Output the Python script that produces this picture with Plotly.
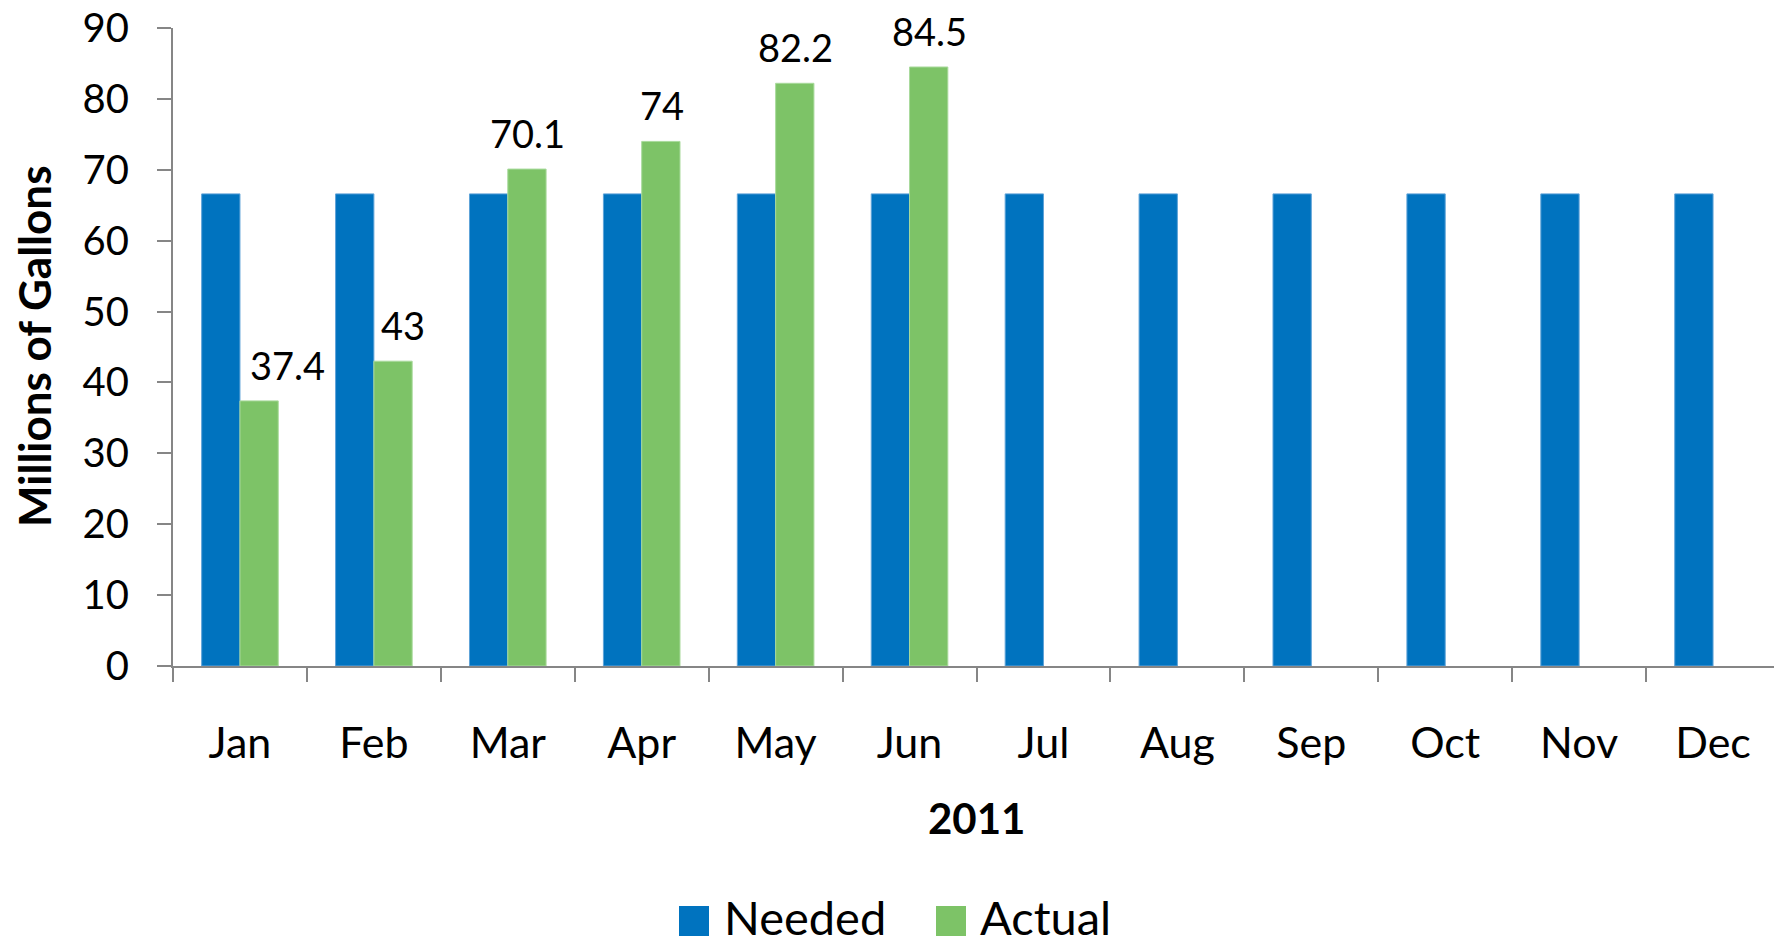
import plotly.graph_objects as go

months = ["Jan", "Feb", "Mar", "Apr", "May", "Jun", "Jul", "Aug", "Sep", "Oct", "Nov", "Dec"]
needed = [66.6] * 12
actual = [37.4, 43, 70.1, 74, 82.2, 84.5, None, None, None, None, None, None]
actual_labels = ["37.4", "43", "70.1", "74", "82.2", "84.5"]

BLUE = "#0073BF"
GREEN = "#7DC367"
AXIS = "#868686"
FONT = "Lato"

# extra horizontal offsets (px) of the data labels (Jan/Feb were nudged right)
label_xshift = [48, 29, 20, 20, 20, 20]

fig = go.Figure()
fig.add_trace(go.Bar(name="Needed", x=months, y=needed, marker=dict(color=BLUE, line=dict(color="#5FA3D8", width=1)),
                     showlegend=False))
fig.add_trace(go.Bar(name="Actual", x=months, y=actual, marker=dict(color=GREEN, line=dict(color="#A9DA9C", width=1)),
                     showlegend=False))

annotations = []
for i, lab in enumerate(actual_labels):
    annotations.append(dict(x=months[i], y=actual[i], xref="x", yref="y", text=lab, showarrow=False,
                            xanchor="center", yanchor="middle", xshift=label_xshift[i], yshift=36,
                            font=dict(family=FONT, size=38, color="black")))

# axis titles
annotations.append(dict(x=0, y=0.5, xref="paper", yref="paper", text="<b>Millions of Gallons</b>", textangle=-90,
                        showarrow=False, xanchor="center", yanchor="middle", xshift=-139,
                        font=dict(family=FONT, size=44, color="black")))
annotations.append(dict(x=0.5, y=0, xref="paper", yref="paper", text="<b>2011</b>", showarrow=False,
                        xanchor="center", yanchor="middle", yshift=-152,
                        font=dict(family=FONT, size=42, color="black")))

# manual legend (large square swatches)
shapes = []
legend_items = [("Needed", BLUE, 506, 549), ("Actual", GREEN, 763, 805)]
for name, col, sx, tx in legend_items:
    shapes.append(dict(type="rect", xref="paper", yref="paper", xsizemode="pixel", ysizemode="pixel",
                       xanchor=0, yanchor=0, x0=sx, x1=sx + 30, y0=-270, y1=-240,
                       fillcolor=col, line=dict(width=0)))
    annotations.append(dict(x=0, y=0, xref="paper", yref="paper", text=name, showarrow=False,
                            xanchor="left", yanchor="middle", xshift=tx, yshift=-251,
                            font=dict(family=FONT, size=47, color="black")))

fig.update_layout(
    width=1774, height=933,
    margin=dict(l=165, r=2, t=20, b=275),
    paper_bgcolor="white", plot_bgcolor="white",
    barmode="group", bargap=0.428, bargroupgap=0,
    font=dict(family=FONT, color="black"),
    annotations=annotations, shapes=shapes,
    showlegend=False,
)
fig.update_xaxes(type="category", showline=True, linecolor=AXIS, linewidth=2, ticks="outside", tickson="boundaries",
                 ticklen=14, tickwidth=2, tickcolor=AXIS, showgrid=False, ticklabelstandoff=38, automargin=False,
                 tickfont=dict(family=FONT, size=43, color="black"))
fig.update_yaxes(range=[0, 90], dtick=10, showline=True, linecolor=AXIS, linewidth=2, ticks="outside",
                 ticklen=14, tickwidth=2, tickcolor=AXIS, showgrid=False, zeroline=False, ticklabelstandoff=20,
                 ticklabeloverflow="allow", automargin=False,
                 tickfont=dict(family=FONT, size=40, color="black"))

fig.write_html("out.html")
